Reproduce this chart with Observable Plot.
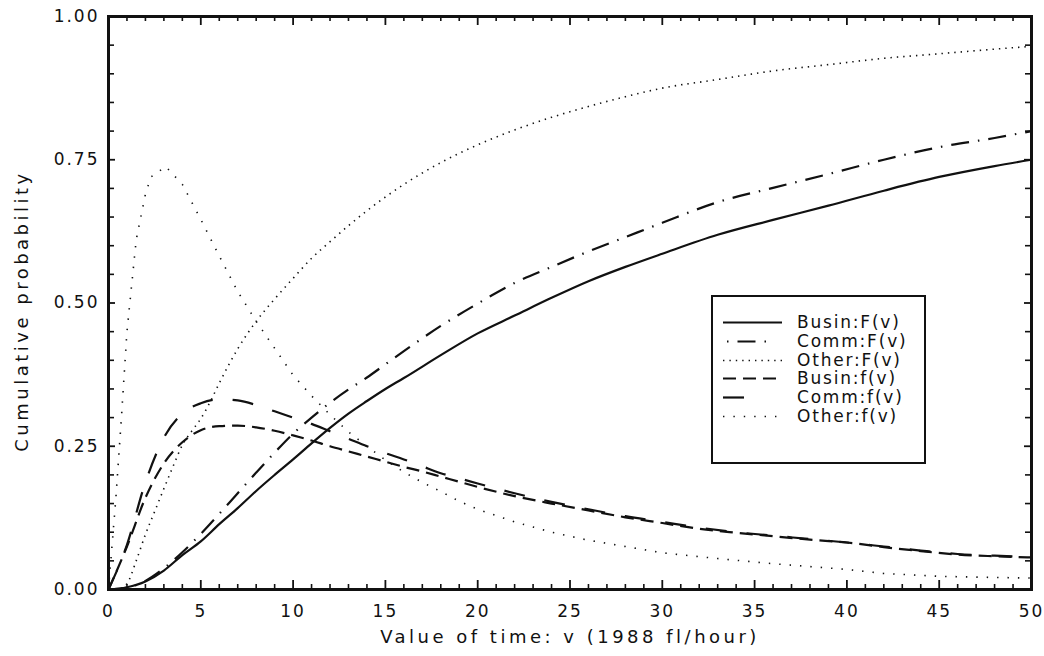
<!DOCTYPE html>
<html>
<head>
<meta charset="utf-8">
<script src="https://cdn.jsdelivr.net/npm/d3@7"></script>
<script src="https://cdn.jsdelivr.net/npm/@observablehq/plot@0.6"></script>
<style>
  body { margin: 0; background: #fff; }
  #wrap { position: relative; width: 1044px; height: 656px; font-family: "DejaVu Sans", sans-serif; color: #111; }
  #legend { position: absolute; left: 711px; top: 295px; width: 211px; height: 165px; border: 2px solid #111; background: #fff; }
  .row { position: absolute; left: 0; width: 211px; height: 19px; }
  .row svg { position: absolute; left: 8px; top: 0; }
  .row span { position: absolute; left: 84px; top: 0; line-height: 19px; font-size: 17px; letter-spacing: 1.8px; white-space: nowrap; }
</style>
</head>
<body>
<div id="wrap"></div>
<script>
// ---- data ----
const xTicks = [0, 5, 10, 15, 20, 25, 30, 35, 40, 45, 50];
const yTicks = [0, 0.25, 0.5, 0.75, 1];

const vF = [0,1,2,3,4,5,6,7,8,9,10,11,12,13,14,15,16,18,20,22,24,26,28,30,33,36,39,42,45,48,50];
const businF = [0,0.004,0.014,0.033,0.06,0.084,0.114,0.142,0.172,0.2,0.227,0.255,0.282,0.307,0.329,0.35,0.369,0.409,0.447,0.478,0.509,0.538,0.563,0.586,0.619,0.645,0.67,0.696,0.72,0.739,0.75];
const commF  = [0,0.003,0.015,0.037,0.065,0.097,0.132,0.168,0.204,0.239,0.272,0.3,0.326,0.349,0.37,0.393,0.416,0.46,0.499,0.535,0.563,0.59,0.615,0.64,0.676,0.701,0.725,0.75,0.772,0.788,0.8];

const vOtherF = [0,0.5,1,1.5,2,2.5,3,3.5,4,4.5,5,5.5,6,7,8,9,10,11,12,13,14,15,16,18,20,22,24,26,28,30,33,36,39,42,45,48,50];
const otherF  = [0,0,0.01,0.05,0.096,0.136,0.176,0.215,0.252,0.276,0.298,0.327,0.36,0.42,0.468,0.507,0.543,0.578,0.607,0.635,0.661,0.685,0.707,0.745,0.776,0.802,0.824,0.843,0.86,0.875,0.89,0.905,0.916,0.927,0.935,0.943,0.948];

const vf = [0,1,2,3,4,5,6,7,8,9,10,11,12,13,14,15,16,17,18,19,20,22,24,26,28,30,32,34,36,38,40,42,44,46,48,50];
const businf = [0,0.075,0.16,0.22,0.257,0.278,0.285,0.286,0.283,0.277,0.269,0.26,0.25,0.241,0.232,0.223,0.214,0.206,0.197,0.188,0.179,0.163,0.15,0.138,0.126,0.116,0.106,0.099,0.093,0.087,0.082,0.074,0.067,0.061,0.058,0.056];
const commf  = [0,0.078,0.187,0.265,0.307,0.325,0.332,0.33,0.322,0.311,0.3,0.289,0.276,0.263,0.25,0.238,0.227,0.215,0.203,0.194,0.185,0.168,0.153,0.14,0.128,0.118,0.108,0.1,0.094,0.088,0.082,0.075,0.068,0.062,0.059,0.057];

const vOtherf = [0,0.4,0.7,1,1.5,2,2.3,3.1,4,5,6,7,8,9,10,11,12,13,14,15,16,17,18,19,20,22,24,26,28,30,33,36,40,42,45,48,50];
const otherf  = [0,0.16,0.3,0.45,0.61,0.69,0.72,0.738,0.707,0.646,0.582,0.52,0.468,0.421,0.374,0.338,0.305,0.275,0.25,0.226,0.205,0.187,0.171,0.154,0.14,0.118,0.1,0.086,0.075,0.064,0.054,0.045,0.035,0.028,0.023,0.021,0.02];

const seriesNames = ["Busin:F(v)", "Comm:F(v)", "Other:F(v)", "Busin:f(v)", "Comm:f(v)", "Other:f(v)"];
const seriesX = [vF, vF, vOtherF, vf, vf, vOtherf];
const seriesY = [businF, commF, otherF, businf, commf, otherf];

// ---- styles ----
const ink = "#111";
const styles = [
  {dash: null,            width: 2.2, curve: "monotone-x", legend: [12, 71], offset: 0},
  {dash: "18,9,1.5,9",    width: 2.2, curve: "monotone-x", legend: [16, 59], offset: 27},
  {dash: "1.4,5",         width: 1.6, curve: "monotone-x", legend: [12, 71], offset: 0},
  {dash: "13,7",          width: 2.2, curve: "monotone-x", legend: [12, 71], offset: 0},
  {dash: "21,20",         width: 2.2, curve: "monotone-x", legend: [12, 38], offset: 0},
  {dash: "1.4,9",         width: 1.6, curve: "linear",     legend: [12, 71], offset: 0}
];

const W = 1044, H = 656, mL = 108, mR = 13, mT = 16, mB = 67;
const innerW = W - mL - mR, innerH = H - mT - mB;

const minorX = d3.range(0, 51).filter(d => d % 5 !== 0);
const majorX = d3.range(0, 51, 5);
const minorY = d3.range(0, 21).map(d => d / 20).filter((d, i) => i % 5 !== 0);
const majorY = yTicks;

const lineMarks = seriesNames.map((name, i) => {
  const rows = seriesX[i].map((v, j) => ({v, p: seriesY[i][j]}));
  return Plot.line(rows, {
    x: "v", y: "p", stroke: ink, strokeWidth: styles[i].width,
    strokeDasharray: styles[i].dash, curve: styles[i].curve, strokeLinecap: "butt"
  });
});

const chart = Plot.plot({
  width: W, height: H,
  marginLeft: mL, marginRight: mR, marginTop: mT, marginBottom: mB,
  style: {fontFamily: "DejaVu Sans, sans-serif", fontSize: "17px", color: ink, background: "#fff", letterSpacing: "2px"},
  x: {domain: [0, 50], ticks: xTicks, tickSize: 0, tickPadding: 15, tickFormat: d => String(d), label: null},
  y: {domain: [0, 1], ticks: yTicks, tickSize: 0, tickPadding: 9, tickFormat: d3.format(".2f"), label: null},
  marks: [
    ...lineMarks,
    Plot.tickX(minorX, {x: d => d, insetTop: innerH - 5, stroke: ink, strokeWidth: 1.6}),
    Plot.tickX(majorX, {x: d => d, insetTop: innerH - 9, stroke: ink, strokeWidth: 1.8}),
    Plot.tickX(minorX, {x: d => d, insetBottom: innerH - 5, stroke: ink, strokeWidth: 1.6}),
    Plot.tickX(majorX, {x: d => d, insetBottom: innerH - 9, stroke: ink, strokeWidth: 1.8}),
    Plot.tickY(minorY, {y: d => d, insetRight: innerW - 6, stroke: ink, strokeWidth: 1.6}),
    Plot.tickY(majorY, {y: d => d, insetRight: innerW - 7, stroke: ink, strokeWidth: 1.8}),
    Plot.tickY(minorY, {y: d => d, insetLeft: innerW - 6, stroke: ink, strokeWidth: 1.6}),
    Plot.tickY(majorY, {y: d => d, insetLeft: innerW - 7, stroke: ink, strokeWidth: 1.8}),
    Plot.frame({stroke: ink, strokeWidth: 3}),
    Plot.text(["Value of time: v (1988 fl/hour)"], {text: d => d, frameAnchor: "bottom", dy: 48, fontSize: 18, textAnchor: "middle", lineAnchor: "middle", fill: ink}),
    Plot.text(["Cumulative probability"], {text: d => d, frameAnchor: "left", dx: -86, dy: 8, rotate: -90, fontSize: 18, textAnchor: "middle", lineAnchor: "middle", fill: ink})
  ]
});

d3.select(chart).selectAll('g[aria-label="text"] text').style("letter-spacing", "3.5px");

const wrap = document.getElementById("wrap");
wrap.appendChild(chart);

// ---- legend ----
const legend = document.createElement("div");
legend.id = "legend";
const rowTops = [16, 34.8, 53.6, 72.4, 91.2, 110];
seriesNames.forEach((name, i) => {
  const row = document.createElement("div");
  row.className = "row";
  row.style.top = rowTops[i] + "px";
  const s = styles[i];
  const dashAttr = s.dash ? `stroke-dasharray="${s.dash}" stroke-dashoffset="${s.offset}"` : "";
  row.innerHTML = `<svg width="70" height="19"><line x1="${s.legend[0] - 10}" x2="${s.legend[1] - 10}" y1="9.5" y2="9.5" stroke="${ink}" stroke-width="${s.width}" ${dashAttr}/></svg><span>${name}</span>`;
  legend.appendChild(row);
});
wrap.appendChild(legend);
</script>
</body>
</html>
